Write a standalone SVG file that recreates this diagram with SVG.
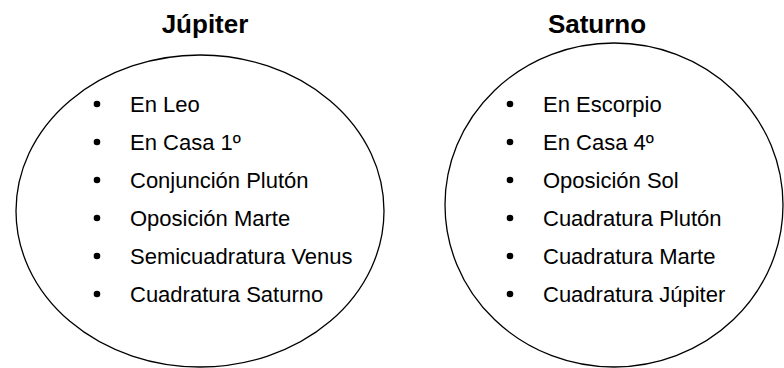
<svg xmlns="http://www.w3.org/2000/svg" width="784" height="368" viewBox="0 0 784 368">
<style>
.t{font-family:"Liberation Sans",Arial,sans-serif;font-size:26px;font-weight:bold;fill:#000;text-anchor:middle}
.i{font-family:"Liberation Sans",Arial,sans-serif;font-size:22px;fill:#000}
.e{fill:none;stroke:#000;stroke-width:1.3}
.b{fill:#000}
</style>
<rect width="784" height="368" fill="#fff"/>
<g id="jupiter">
<text class="t" x="205" y="33">Júpiter</text>
<ellipse class="e" cx="200" cy="211" rx="184" ry="156"/>
<circle class="b" cx="97" cy="104" r="3.3"/>
<circle class="b" cx="97" cy="142" r="3.3"/>
<circle class="b" cx="97" cy="180" r="3.3"/>
<circle class="b" cx="97" cy="218" r="3.3"/>
<circle class="b" cx="97" cy="256" r="3.3"/>
<circle class="b" cx="97" cy="294" r="3.3"/>
<text class="i" x="130" y="112">En Leo</text>
<text class="i" x="130" y="150">En Casa 1º</text>
<text class="i" x="130" y="188">Conjunción Plutón</text>
<text class="i" x="130" y="226">Oposición Marte</text>
<text class="i" x="130" y="264">Semicuadratura Venus</text>
<text class="i" x="130" y="302">Cuadratura Saturno</text>
</g>
<g id="saturno">
<text class="t" x="597" y="33">Saturno</text>
<ellipse class="e" cx="614" cy="205" rx="169" ry="162"/>
<circle class="b" cx="510" cy="104" r="3.3"/>
<circle class="b" cx="510" cy="142" r="3.3"/>
<circle class="b" cx="510" cy="180" r="3.3"/>
<circle class="b" cx="510" cy="218" r="3.3"/>
<circle class="b" cx="510" cy="256" r="3.3"/>
<circle class="b" cx="510" cy="294" r="3.3"/>
<text class="i" x="543" y="112">En Escorpio</text>
<text class="i" x="543" y="150">En Casa 4º</text>
<text class="i" x="543" y="188">Oposición Sol</text>
<text class="i" x="543" y="226">Cuadratura Plutón</text>
<text class="i" x="543" y="264">Cuadratura Marte</text>
<text class="i" x="543" y="302">Cuadratura Júpiter</text>
</g>
<g id="connectors"></g>
</svg>
